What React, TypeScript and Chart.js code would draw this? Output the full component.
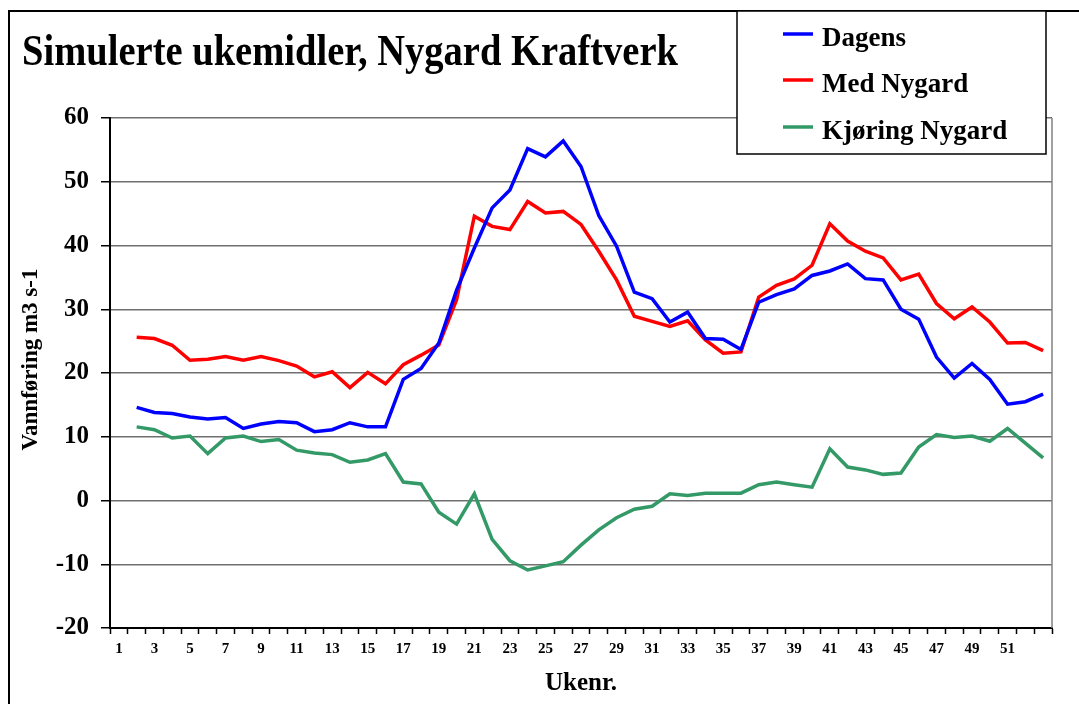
import React, { useEffect, useRef } from "react";
import { Chart, registerables } from "chart.js";

Chart.register(...registerables);

const TITLE = "Simulerte ukemidler, Nygard Kraftverk";
const Y_TITLE = "Vannføring m3 s-1";
const X_TITLE = "Ukenr.";

const WEEKS = [
  "1", "2", "3", "4", "5", "6", "7", "8", "9", "10",
  "11", "12", "13", "14", "15", "16", "17", "18", "19", "20",
  "21", "22", "23", "24", "25", "26", "27", "28", "29", "30",
  "31", "32", "33", "34", "35", "36", "37", "38", "39", "40",
  "41", "42", "43", "44", "45", "46", "47", "48", "49", "50",
  "51", "52", "53",
];

const SHOWN_TICKS = [
  "1", "3", "5", "7", "9", "11", "13", "15", "17", "19", "21", "23", "25",
  "27", "29", "31", "33", "35", "37", "39", "41", "43", "45", "47", "49", "51",
];

const DAGENS = [
  null, 14.6, 13.8, 13.65, 13.1, 12.8, 13.0, 11.3, 12.0, 12.4, 12.2, 10.8, 11.1,
  12.2, 11.55, 11.55, 19.0, 20.7, 24.7, 33.0, 39.6, 45.9, 48.7, 55.2, 53.9, 56.4,
  52.4, 44.7, 39.9, 32.7, 31.65, 28.0, 29.55, 25.4, 25.3, 23.7, 31.1, 32.3, 33.2,
  35.3, 36.0, 37.1, 34.8, 34.6, 30.0, 28.45, 22.5, 19.2, 21.5, 19.0, 15.1, 15.5, 16.7,
];

const MED_NYGARD = [
  null, 25.6, 25.4, 24.35, 22.0, 22.15, 22.6, 22.0, 22.6, 21.95, 21.1, 19.4, 20.2,
  17.7, 20.1, 18.3, 21.3, 22.8, 24.4, 31.5, 44.6, 43.0, 42.5, 46.9, 45.1, 45.35,
  43.3, 39.1, 34.6, 28.9, 28.1, 27.3, 28.2, 25.2, 23.1, 23.3, 31.9, 33.75, 34.75,
  36.9, 43.4, 40.7, 39.1, 38.05, 34.6, 35.5, 30.9, 28.5, 30.35, 28.0, 24.7, 24.8, 23.5,
];

const KJORING_NYGARD = [
  null, 11.55, 11.1, 9.8, 10.1, 7.35, 9.8, 10.1, 9.24, 9.55, 7.9, 7.45, 7.2,
  6.0, 6.35, 7.35, 2.9, 2.6, -1.85, -3.7, 1.05, -6.1, -9.45, -10.9, -10.25, -9.6,
  -7.0, -4.6, -2.7, -1.37, -0.9, 1.05, 0.8, 1.15, 1.15, 1.15, 2.47, 2.9, 2.47,
  2.1, 8.1, 5.25, 4.8, 4.1, 4.3, 8.4, 10.35, 9.9, 10.1, 9.3, 11.3, 9.0, 6.7,
];

const SERIES_LABELS = ["Dagens", "Med Nygard", "Kjøring Nygard"];
const SERIES_COLORS = ["#0000FF", "#FF0000", "#339966"];

const FONT = '"Liberation Serif", "Times New Roman", serif';

const decorPlugin = {
  id: "decor",
  afterDraw(chart: any) {
    const ctx: CanvasRenderingContext2D = chart.ctx;
    const ca = chart.chartArea;
    ctx.save();

    // right border of plot area
    ctx.strokeStyle = "#808080";
    ctx.lineWidth = 1.5;
    ctx.beginPath();
    ctx.moveTo(ca.right, ca.top);
    ctx.lineTo(ca.right, ca.bottom);
    ctx.stroke();

    // outer frame
    ctx.strokeStyle = "#000";
    ctx.lineWidth = 2;
    ctx.beginPath();
    ctx.moveTo(9, 704);
    ctx.lineTo(9, 11);
    ctx.lineTo(1079, 11);
    ctx.stroke();

    // title
    ctx.fillStyle = "#000";
    ctx.textAlign = "left";
    ctx.textBaseline = "alphabetic";
    ctx.font = `bold 44px ${FONT}`;
    const tw = ctx.measureText(TITLE).width;
    ctx.save();
    ctx.translate(22, 65);
    ctx.scale(656 / tw, 1);
    ctx.fillText(TITLE, 0, 0);
    ctx.restore();

    // y axis title
    ctx.save();
    ctx.translate(37, 359.5);
    ctx.rotate(-Math.PI / 2);
    ctx.font = `bold 23px ${FONT}`;
    ctx.textAlign = "center";
    ctx.fillText(Y_TITLE, 0, 0);
    ctx.restore();

    // legend
    ctx.fillStyle = "#fff";
    ctx.fillRect(737, 11, 309, 143);
    ctx.strokeStyle = "#000";
    ctx.lineWidth = 1.5;
    ctx.strokeRect(737, 11, 309, 143);
    const lineYs = [34, 80, 127];
    const textYs = [46, 91.5, 138.5];
    chart.data.datasets.forEach((ds: any, i: number) => {
      ctx.strokeStyle = ds.borderColor;
      ctx.lineWidth = 3.5;
      ctx.beginPath();
      ctx.moveTo(783, lineYs[i]);
      ctx.lineTo(813, lineYs[i]);
      ctx.stroke();
      ctx.fillStyle = "#000";
      ctx.font = `bold 27px ${FONT}`;
      ctx.textAlign = "left";
      ctx.fillText(ds.label, 822, textYs[i]);
    });

    ctx.restore();
  },
};

export default function App() {
  const canvasRef = useRef<HTMLCanvasElement | null>(null);

  useEffect(() => {
    if (!canvasRef.current) return;
    const seriesData = [DAGENS, MED_NYGARD, KJORING_NYGARD];
    const chart = new Chart(canvasRef.current, {
      type: "line",
      data: {
        labels: WEEKS,
        datasets: seriesData.map((d, i) => ({
          label: SERIES_LABELS[i],
          data: d,
          borderColor: SERIES_COLORS[i],
          backgroundColor: SERIES_COLORS[i],
          borderWidth: 3.5,
          pointRadius: 0,
          tension: 0,
          fill: false,
          spanGaps: false,
        })),
      },
      options: {
        responsive: false,
        animation: false,
        devicePixelRatio: 1,
        layout: { padding: { top: 118, right: 27, left: 0, bottom: 0 } },
        plugins: {
          legend: { display: false },
          title: { display: false },
          tooltip: { enabled: false },
        },
        scales: {
          x: {
            type: "category",
            offset: true,
            grid: {
              display: true,
              drawOnChartArea: false,
              drawTicks: true,
              tickLength: 6,
              offset: true,
              tickColor: "#000",
              tickWidth: 1.5,
            },
            border: { color: "#000", width: 2 },
            ticks: {
              autoSkip: false,
              maxRotation: 0,
              minRotation: 0,
              padding: 6,
              color: "#000",
              font: { family: FONT, size: 15, weight: "bold" },
              callback: (_v: any, idx: number) =>
                SHOWN_TICKS.includes(WEEKS[idx]) ? WEEKS[idx] : "",
            },
            title: {
              display: true,
              text: X_TITLE,
              color: "#000",
              font: { family: FONT, size: 25, weight: "bold" },
              padding: { top: 0, bottom: 5 },
            },
            afterFit: (scale: any) => {
              scale.height = 76;
            },
          },
          y: {
            min: -20,
            max: 60,
            ticks: {
              stepSize: 10,
              padding: 12,
              color: "#000",
              font: { family: FONT, size: 25, weight: "bold" },
            },
            grid: {
              color: "#707070",
              lineWidth: 1.5,
              tickLength: 9,
              tickColor: "#000",
              tickWidth: 1.5,
            },
            border: { color: "#000", width: 2 },
            afterFit: (scale: any) => {
              scale.width = 110;
            },
          },
        },
      },
      plugins: [decorPlugin],
    });
    return () => chart.destroy();
  }, []);

  return (
    <div style={{ position: "absolute", left: 0, top: 0, width: 1079, height: 704, background: "#fff" }}>
      <canvas ref={canvasRef} width={1079} height={704} style={{ display: "block" }} />
    </div>
  );
}
